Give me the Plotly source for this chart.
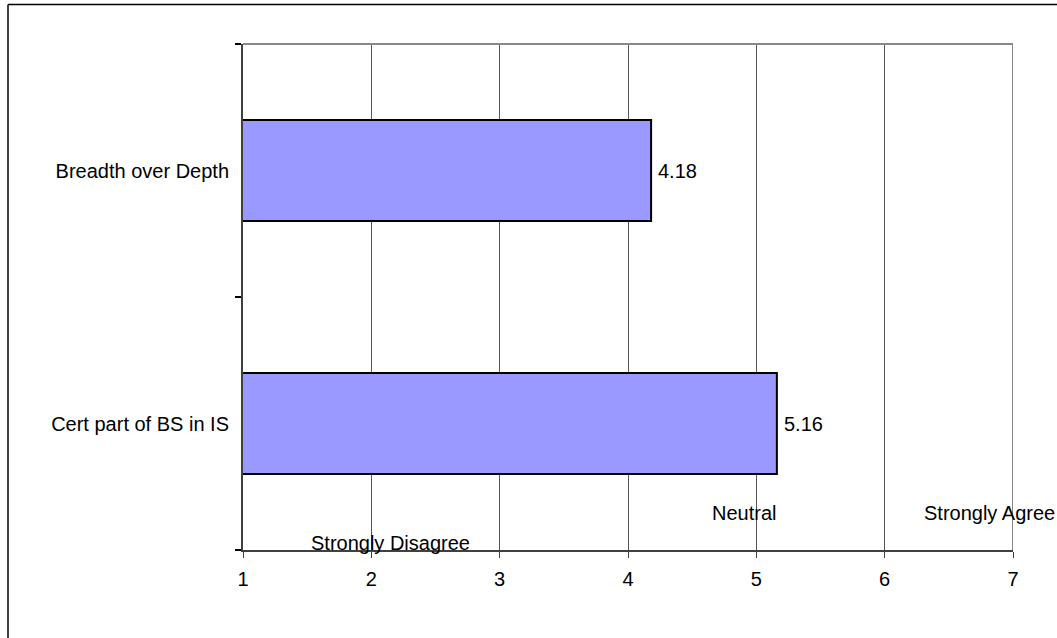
import plotly.graph_objects as go

categories = ["Cert part of BS in IS", "Breadth over Depth"]
values = [5.16, 4.18]
x_ticks = [1, 2, 3, 4, 5, 6, 7]
scale_labels = ["Strongly Disagree", "Neutral", "Strongly Agree"]
scale_label_x = [2.153, 4.90, 6.814]
scale_label_y = [0.014, 0.073, 0.073]

FONT = "Liberation Sans, Arial, sans-serif"

fig = go.Figure()
fig.add_trace(go.Bar(
    y=categories, x=values, orientation="h",
    marker=dict(color="#9999FF", line=dict(color="#000000", width=2)),
    hoverinfo="x+y",
))

fig.update_layout(
    width=1057, height=638,
    margin=dict(l=243, r=44, t=44, b=88),
    paper_bgcolor="white", plot_bgcolor="white",
    font=dict(family=FONT, size=20, color="#000000"),
    bargap=0.6,
    showlegend=False,
)
fig.update_xaxes(
    range=[1, 7], tickvals=x_ticks, ticktext=[str(t) for t in x_ticks],
    showgrid=True, gridcolor="#555555", gridwidth=1,
    showline=True, linecolor="#404040", linewidth=2,
    ticks="outside", ticklen=6, tickcolor="#404040", tickwidth=1,
    zeroline=False, ticklabelstandoff=4,
)
fig.update_yaxes(
    type="category", categoryorder="array", categoryarray=categories,
    range=[-0.5, 1.5], tickson="boundaries",
    showline=True, linecolor="#404040", linewidth=2,
    ticks="outside", ticklen=6, tickcolor="#000000", tickwidth=2,
    showgrid=False, ticklabelstandoff=8,
)
# plot-area border (top and right) in gray
fig.add_shape(type="line", xref="x", yref="paper", x0=1, x1=7, y0=1, y1=1,
              line=dict(color="#888888", width=2), layer="above")
fig.add_shape(type="line", xref="x", yref="paper", x0=7, x1=7, y0=0, y1=1,
              line=dict(color="#888888", width=2), layer="above")
# outer chart border (left and top visible)
fig.add_shape(type="line", xref="paper", yref="paper",
              x0=(8 - 243) / 770, x1=(8 - 243) / 770, y0=(550 - 645) / 506, y1=(550 - 4.5) / 506,
              line=dict(color="#000000", width=1.5))
fig.add_shape(type="line", xref="paper", yref="paper",
              x0=(8 - 243) / 770, x1=(1060 - 243) / 770, y0=(550 - 4.5) / 506, y1=(550 - 4.5) / 506,
              line=dict(color="#000000", width=1.5))

# value labels
for cat, v in zip(categories, values):
    fig.add_annotation(text=f"{v:.2f}", x=v, y=cat, xref="x", yref="y",
                       showarrow=False, xanchor="left", yanchor="middle", xshift=5,
                       font=dict(size=20, color="#000000", family=FONT))

for lab, lx, ly in zip(scale_labels, scale_label_x, scale_label_y):
    fig.add_annotation(text=lab, x=lx, y=ly, xref="x", yref="paper",
                       showarrow=False, xanchor="center", yanchor="middle",
                       font=dict(size=20, color="#000000", family=FONT))

fig.write_html("out.html")
